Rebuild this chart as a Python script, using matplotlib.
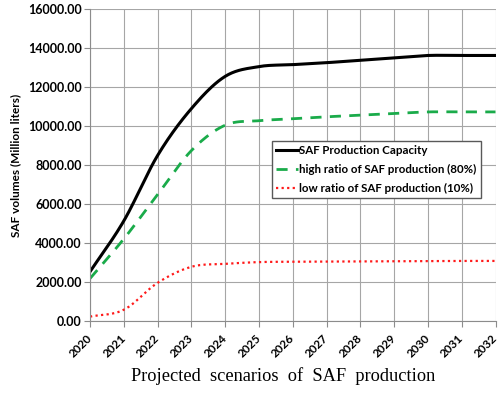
import numpy as np
import matplotlib
matplotlib.use("Agg")
import matplotlib.pyplot as plt

years = [2020, 2021, 2022, 2023, 2024, 2025, 2026, 2027, 2028, 2029, 2030, 2031, 2032]
capacity = [2550, 5150, 8500, 10900, 12550, 13050, 13150, 13250, 13380, 13500, 13620, 13620, 13620]
high_ratio = [2200, 4230, 6500, 8750, 10050, 10280, 10380, 10480, 10560, 10650, 10730, 10730, 10730]
low_ratio = [250, 600, 1980, 2800, 2950, 3040, 3060, 3070, 3080, 3090, 3100, 3100, 3100]
yticks = [0, 2000, 4000, 6000, 8000, 10000, 12000, 14000, 16000]
labels = ["SAF Production Capacity", "high ratio of SAF production (80%)", "low ratio of SAF production (10%)"]


def smooth(x, y, n=20):
    x = np.asarray(x, float); y = np.asarray(y, float)
    px = np.concatenate([[2 * x[0] - x[1]], x, [2 * x[-1] - x[-2]]])
    py = np.concatenate([[2 * y[0] - y[1]], y, [2 * y[-1] - y[-2]]])
    xs, ys = [], []
    for i in range(1, len(px) - 2):
        t = np.linspace(0, 1, n, endpoint=False)
        for arr, out in ((px, xs), (py, ys)):
            p0, p1, p2, p3 = arr[i - 1], arr[i], arr[i + 1], arr[i + 2]
            out.append(0.5 * ((2 * p1) + (-p0 + p2) * t + (2 * p0 - 5 * p1 + 4 * p2 - p3) * t ** 2
                              + (-p0 + 3 * p1 - 3 * p2 + p3) * t ** 3))
    xs.append([x[-1]]); ys.append([y[-1]])
    return np.concatenate(xs), np.concatenate(ys)


plt.rcParams['font.family'] = ['Lato', 'DejaVu Sans']
fig = plt.figure(figsize=(4.99, 4.01), dpi=100)
ax = fig.add_axes([0.1804, 0.1983, 0.8126, 0.7793])

sx, sy = smooth(years, capacity)
ax.plot(sx, sy, color='black', lw=2.2, label=labels[0])
sx, sy = smooth(years, high_ratio)
ax.plot(sx, sy, color='#1aab4a', lw=2.0, ls=(0, (4, 3)), label=labels[1])
sx, sy = smooth(years, low_ratio)
ax.plot(sx, sy, color='#ff1a1a', lw=1.6, ls=(0, (1, 1.5)), label=labels[2])

ax.set_xlim(2020, 2032)
ax.set_ylim(0, 16000)
ax.set_xticks(years)
ax.set_yticks(yticks)
ax.set_yticklabels([f"{v:.2f}" for v in yticks], fontweight='bold', fontsize=9)
ax.set_xticklabels([str(y) for y in years], rotation=45, fontweight='bold', fontsize=8.5,
                   ha='right', va='center', rotation_mode='anchor')
ax.grid(True, color='#a6a6a6', lw=0.8)
ax.set_axisbelow(True)
for s in ['top', 'right']:
    ax.spines[s].set_visible(False)
for s in ['left', 'bottom']:
    ax.spines[s].set_color('#8c8c8c')
ax.tick_params(axis='both', color='#8c8c8c', length=4, pad=2)
ax.tick_params(axis='x', pad=7)
ax.set_ylabel("SAF volumes (Million liters)", fontweight='bold', fontsize=8.5, labelpad=5)

leg = ax.legend(loc='upper left', bbox_to_anchor=(0.448, 0.578), prop={'weight': 'bold', 'size': 8.3},
                fancybox=False, edgecolor='#595959', handlelength=1.9, handletextpad=0.05,
                borderpad=0.4, labelspacing=0.65, framealpha=1, borderaxespad=0)
leg.get_frame().set_linewidth(1.0)

fig.text(0.568, 0.062, "Projected  scenarios  of  SAF  production", family='Liberation Serif',
         fontsize=13.2, ha='center', va='center')

fig.savefig("out.png", dpi=100)
